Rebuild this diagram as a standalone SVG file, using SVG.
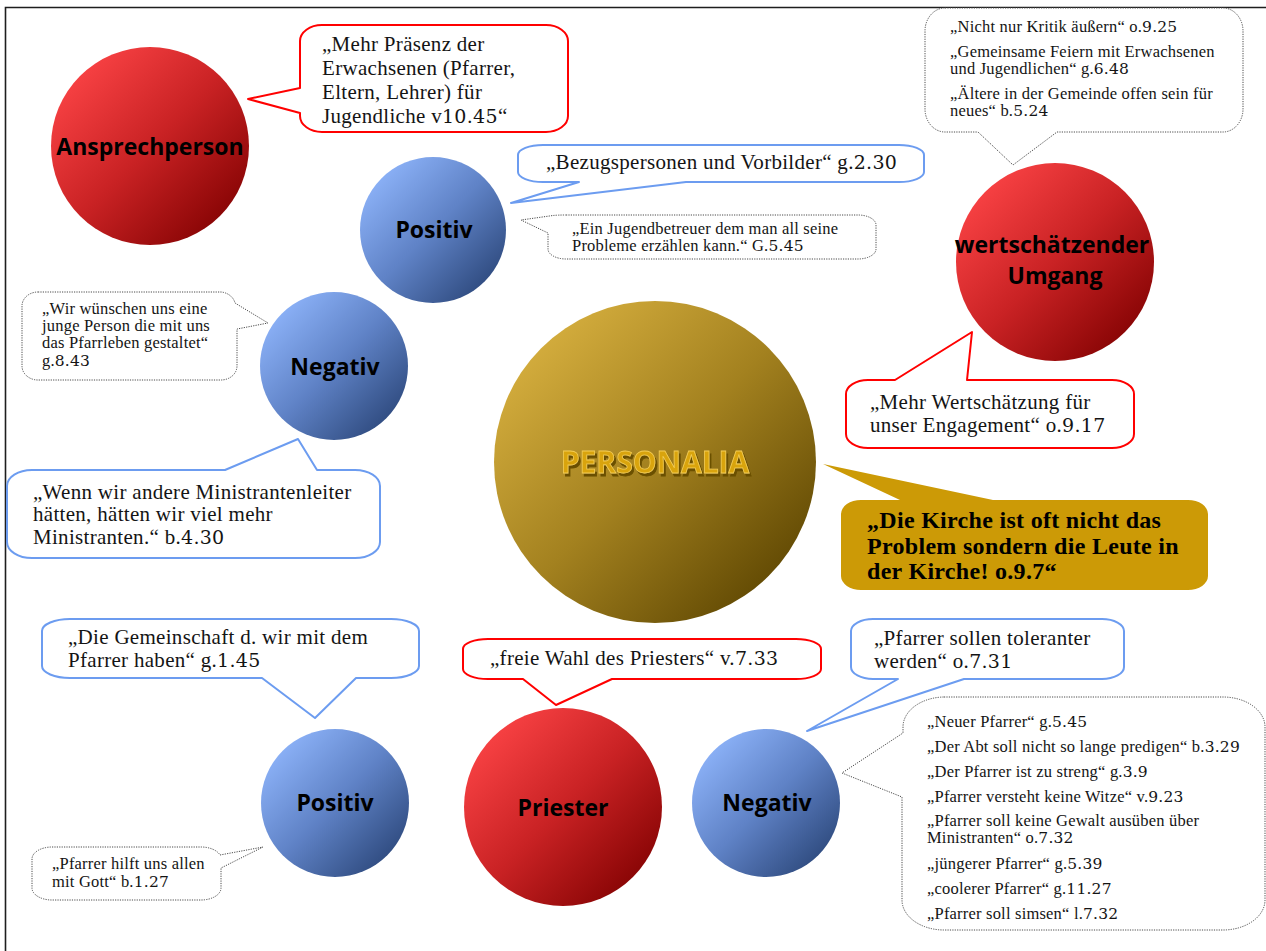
<svg xmlns="http://www.w3.org/2000/svg" width="1266" height="951" viewBox="0 0 1266 951">
  <defs>
    <linearGradient id="gRed" x1="0" y1="0" x2="1" y2="1">
      <stop offset="0.12" stop-color="#F94244"/>
      <stop offset="0.5" stop-color="#C92224"/>
      <stop offset="0.88" stop-color="#870404"/>
    </linearGradient>
    <linearGradient id="gBlue" x1="0" y1="0" x2="1" y2="1">
      <stop offset="0.12" stop-color="#8CB2F8"/>
      <stop offset="0.5" stop-color="#5F82C6"/>
      <stop offset="0.88" stop-color="#2F4B7F"/>
    </linearGradient>
    <linearGradient id="gGold" x1="0" y1="0" x2="1" y2="1">
      <stop offset="0.12" stop-color="#D5AE3E"/>
      <stop offset="0.5" stop-color="#A3811F"/>
      <stop offset="0.88" stop-color="#614903"/>
    </linearGradient>
    <!-- embossed shadow for the title lettering -->
    <filter id="titleShadow" x="-10%" y="-30%" width="120%" height="160%">
      <feOffset in="SourceAlpha" dx="2" dy="3" result="off"/>
      <feFlood flood-color="#6A4F00"/>
      <feComposite in2="off" operator="in" result="shadow"/>
      <feMerge>
        <feMergeNode in="shadow"/>
        <feMergeNode in="SourceGraphic"/>
      </feMerge>
    </filter>
    <style>
      .frame { fill: none; stroke: #1e1e1e; stroke-width: 1.6; }
      .lbl { font-family: "Open Sans", "Noto Sans", sans-serif; font-weight: 700; font-size: 23px; fill: #000; text-anchor: middle; }
      .red { fill: #fff; stroke: #FF0000; stroke-width: 2; stroke-linejoin: round; }
      .blue { fill: #fff; stroke: #6C9CF0; stroke-width: 2; stroke-linejoin: round; }
      .dot { fill: #fff; stroke: #4a4a4a; stroke-width: 1; stroke-dasharray: 1.2 1.2; }
      .gold { fill: #CC9A06; stroke: none; }
      .q { font-family: "Liberation Serif", "Times New Roman", serif; fill: #141414; }
      .big { font-size: 21px; letter-spacing: 0.3px; }
      .sm { font-size: 16.5px; letter-spacing: 0.2px; }
      .num { font-family: "DejaVu Serif", serif; }
      .big .num { font-size: 19px; }
      .sm .num { font-size: 15.5px; }
      .bold { font-family: "Liberation Serif", "Times New Roman", serif; font-weight: 700; font-size: 24px; letter-spacing: 0.3px; fill: #000; }
      .title { font-family: "Open Sans", "Noto Sans", sans-serif; font-weight: 700; font-size: 30px; text-anchor: middle; fill: #D9A40A; stroke: #F3CC55; stroke-width: 0.8; }
    </style>
  </defs>

  <rect width="1266" height="951" fill="#fff"/>
  <path class="frame" d="M5.5 951 V7.5 H1266"/>

  <!-- centre topic -->
  <g id="node-personalia">
    <circle cx="655" cy="462" r="161" fill="url(#gGold)"/>
    <text class="title" x="655" y="473" filter="url(#titleShadow)">PERSONALIA</text>
  </g>

  <!-- topic circles -->
  <g id="node-ansprechperson">
    <circle cx="150" cy="146" r="99" fill="url(#gRed)"/>
    <text class="lbl" x="150" y="155">Ansprechperson</text>
  </g>
  <g id="node-positiv-top">
    <circle cx="433" cy="230" r="73" fill="url(#gBlue)"/>
    <text class="lbl" x="434" y="238">Positiv</text>
  </g>
  <g id="node-negativ-left">
    <circle cx="334" cy="366" r="74" fill="url(#gBlue)"/>
    <text class="lbl" x="335" y="375">Negativ</text>
  </g>
  <g id="node-umgang">
    <circle cx="1055" cy="262" r="99" fill="url(#gRed)"/>
    <text class="lbl">
      <tspan x="1055" y="253">wertschätzender</tspan>
      <tspan x="1055" y="284">Umgang</tspan>
    </text>
  </g>
  <g id="node-positiv-bottom">
    <circle cx="335" cy="803" r="74" fill="url(#gBlue)"/>
    <text class="lbl" x="335" y="811">Positiv</text>
  </g>
  <g id="node-priester">
    <circle cx="563" cy="807" r="99" fill="url(#gRed)"/>
    <text class="lbl" x="563" y="816">Priester</text>
  </g>
  <g id="node-negativ-bottom">
    <circle cx="766" cy="803" r="74" fill="url(#gBlue)"/>
    <text class="lbl" x="767" y="811">Negativ</text>
  </g>

  <!-- speech callouts (tails point at their topic) -->
  <g id="callout-praesenz">
    <path class="red" d="M322,25 H546 A22 16 0 0 1 568,41 V116 A22 16 0 0 1 546,132 H322 A22 16 0 0 1 300,116 V113 L248,99 L300,88 V41 A22 16 0 0 1 322,25 Z"/>
    <text class="q big">
      <tspan x="322" y="51">„Mehr Präsenz der</tspan>
      <tspan x="322" y="75">Erwachsenen (Pfarrer,</tspan>
      <tspan x="322" y="99">Eltern, Lehrer) für</tspan>
      <tspan x="322" y="123">Jugendliche v<tspan class="num">10.45</tspan>“</tspan>
    </text>
  </g>

  <g id="callout-bezugspersonen">
    <path class="blue" d="M543,145 H899 A25 10 0 0 1 924,155 V172 A25 10 0 0 1 899,182 H686 L511,203 L579,182 H543 A25 10 0 0 1 518,172 V155 A25 10 0 0 1 543,145 Z"/>
    <text class="q big" x="546" y="169">„Bezugspersonen und Vorbilder“ g.<tspan class="num">2.30</tspan></text>
  </g>

  <g id="callout-jugendbetreuer">
    <path class="dot" d="M566,215 H858 A18 10 0 0 1 876,225 V249 A18 10 0 0 1 858,259 H566 A18 10 0 0 1 548,249 V233 L521,220 L553,215.5 Q558,215 566,215 Z"/>
    <text class="q sm">
      <tspan x="572" y="234">„Ein Jugendbetreuer dem man all seine</tspan>
      <tspan x="572" y="251">Probleme erzählen kann.“ G.<tspan class="num">5.45</tspan></tspan>
    </text>
  </g>

  <g id="callout-junge-person">
    <path class="dot" d="M38,292 H221 A16 14 0 0 1 235,303 L268,323 L237,329 V366 A16 14 0 0 1 221,380 H38 A16 14 0 0 1 22,366 V306 A16 14 0 0 1 38,292 Z"/>
    <text class="q sm">
      <tspan x="42" y="314">„Wir wünschen uns eine</tspan>
      <tspan x="42" y="331">junge Person die mit uns</tspan>
      <tspan x="42" y="348">das Pfarrleben gestaltet“</tspan>
      <tspan x="42" y="366">g.<tspan class="num">8.43</tspan></tspan>
    </text>
  </g>

  <g id="callout-ministrantenleiter">
    <path class="blue" d="M32,470 H225 L298,439 L317,470 H355 A25 16 0 0 1 380,486 V542 A25 16 0 0 1 355,558 H32 A25 16 0 0 1 7,542 V486 A25 16 0 0 1 32,470 Z"/>
    <text class="q big">
      <tspan x="33" y="499">„Wenn wir andere Ministrantenleiter</tspan>
      <tspan x="33" y="521">hätten, hätten wir viel mehr</tspan>
      <tspan x="33" y="544">Ministranten.“ b.<tspan class="num">4.30</tspan></tspan>
    </text>
  </g>

  <g id="callout-feiern">
    <path class="dot" d="M945,8 H1223 A20 23 0 0 1 1243,31 V109 A20 23 0 0 1 1223,132 H1057 L1013,165 L978,132 H945 A20 23 0 0 1 925,109 V31 A20 23 0 0 1 945,8 Z"/>
    <text class="q sm">
      <tspan x="950" y="32">„Nicht nur Kritik äußern“ o.<tspan class="num">9.25</tspan></tspan>
      <tspan x="950" y="57">„Gemeinsame Feiern mit Erwachsenen</tspan>
      <tspan x="950" y="74">und Jugendlichen“ g.<tspan class="num">6.48</tspan></tspan>
      <tspan x="950" y="99">„Ältere in der Gemeinde offen sein für</tspan>
      <tspan x="950" y="116">neues“ b.<tspan class="num">5.24</tspan></tspan>
    </text>
  </g>

  <g id="callout-wertschaetzung">
    <path class="red" d="M868,380 H895 L972,332 L967,380 H1112 A22 14 0 0 1 1134,394 V434 A22 14 0 0 1 1112,448 H868 A22 14 0 0 1 846,434 V394 A22 14 0 0 1 868,380 Z"/>
    <text class="q big">
      <tspan x="870" y="409">„Mehr Wertschätzung für</tspan>
      <tspan x="870" y="432">unser Engagement“ o.<tspan class="num">9.17</tspan></tspan>
    </text>
  </g>

  <g id="callout-kirche">
    <path class="gold" d="M861,500 H900 L823,464 L993,500 H1188 A20 14 0 0 1 1208,514 V576 A20 14 0 0 1 1188,590 H861 A20 14 0 0 1 841,576 V514 A20 14 0 0 1 861,500 Z"/>
    <text class="bold">
      <tspan x="867" y="528">„Die Kirche ist oft nicht das</tspan>
      <tspan x="867" y="554">Problem sondern die Leute in</tspan>
      <tspan x="867" y="579">der Kirche! o.9.7“</tspan>
    </text>
  </g>

  <g id="callout-gemeinschaft">
    <path class="blue" d="M70,619 H391 A28 12 0 0 1 419,631 V666 A28 12 0 0 1 391,678 H356 L315,718 L262,678 H70 A28 12 0 0 1 42,666 V631 A28 12 0 0 1 70,619 Z"/>
    <text class="q big">
      <tspan x="68" y="644">„Die Gemeinschaft d. wir mit dem</tspan>
      <tspan x="68" y="667">Pfarrer haben“ g.<tspan class="num">1.45</tspan></tspan>
    </text>
  </g>

  <g id="callout-gott">
    <path class="dot" d="M52,847 H201 A20 12 0 0 1 220,855 L263,847 L221,868 V888 A20 12 0 0 1 201,900 H52 A20 12 0 0 1 32,888 V859 A20 12 0 0 1 52,847 Z"/>
    <text class="q sm">
      <tspan x="52" y="869">„Pfarrer hilft uns allen</tspan>
      <tspan x="52" y="887">mit Gott“ b.<tspan class="num">1.27</tspan></tspan>
    </text>
  </g>

  <g id="callout-wahl">
    <path class="red" d="M488,639 H796 A25 10 0 0 1 821,649 V669 A25 10 0 0 1 796,679 H612 L556,705 L523,679 H488 A25 10 0 0 1 463,669 V649 A25 10 0 0 1 488,639 Z"/>
    <text class="q big" x="490" y="665">„freie Wahl des Priesters“ v.<tspan class="num">7.33</tspan></text>
  </g>

  <g id="callout-toleranter">
    <path class="blue" d="M873,619 H1102 A22 12 0 0 1 1124,631 V667 A22 12 0 0 1 1102,679 H964 L807,731 L898,679 H873 A22 12 0 0 1 851,667 V631 A22 12 0 0 1 873,619 Z"/>
    <text class="q big">
      <tspan x="874" y="645">„Pfarrer sollen toleranter</tspan>
      <tspan x="874" y="668">werden“ o.<tspan class="num">7.31</tspan></tspan>
    </text>
  </g>

  <g id="callout-pfarrer-wuensche">
    <path class="dot" d="M944,697 H1223 A42 30 0 0 1 1265,727 V900 A42 30 0 0 1 1223,930 H944 A42 30 0 0 1 902,900 V797 L842,773 L903,733 V727 A42 30 0 0 1 944,697 Z"/>
    <text class="q sm">
      <tspan x="927" y="727">„Neuer Pfarrer“ g.<tspan class="num">5.45</tspan></tspan>
      <tspan x="927" y="752">„Der Abt soll nicht so lange predigen“ b.<tspan class="num">3.29</tspan></tspan>
      <tspan x="927" y="777">„Der Pfarrer ist zu streng“ g.<tspan class="num">3.9</tspan></tspan>
      <tspan x="927" y="802">„Pfarrer versteht keine Witze“ v.<tspan class="num">9.23</tspan></tspan>
      <tspan x="927" y="826">„Pfarrer soll keine Gewalt ausüben über</tspan>
      <tspan x="927" y="843">Ministranten“ o.<tspan class="num">7.32</tspan></tspan>
      <tspan x="927" y="869">„jüngerer Pfarrer“ g.<tspan class="num">5.39</tspan></tspan>
      <tspan x="927" y="894">„coolerer Pfarrer“ g.<tspan class="num">11.27</tspan></tspan>
      <tspan x="927" y="919">„Pfarrer soll simsen“ l.<tspan class="num">7.32</tspan></tspan>
    </text>
  </g>
</svg>
